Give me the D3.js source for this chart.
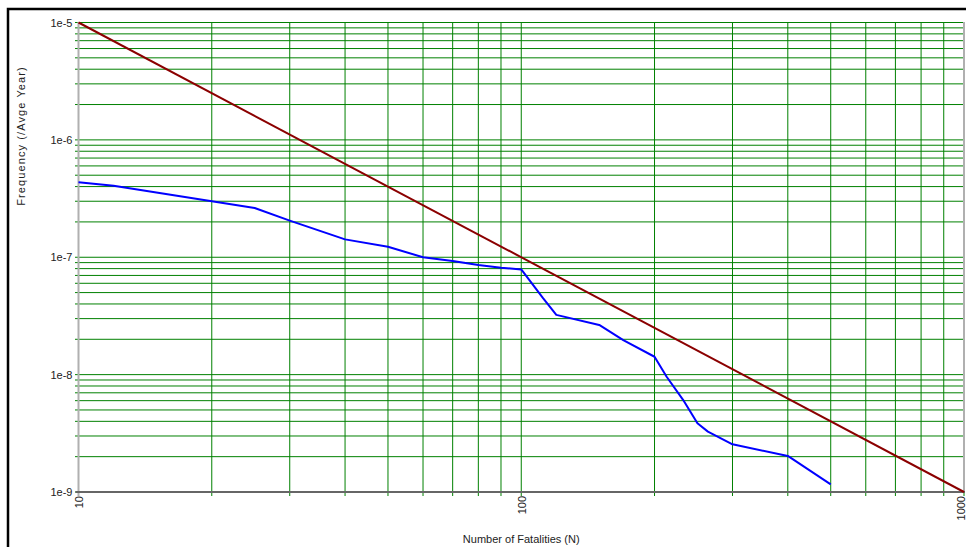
<!DOCTYPE html>
<html>
<head>
<meta charset="utf-8">
<script src="https://cdn.jsdelivr.net/npm/d3@7"></script>
<style>
  html, body { margin: 0; padding: 0; background: #fff; }
  svg { display: block; }
  text { font-family: "Liberation Sans", Arial, sans-serif; }
</style>
</head>
<body>
<svg id="chart" width="966" height="547"></svg>
<script>
// ---- data ----
const criterionN = [10, 1000];
const criterionF = [1e-5, 1e-9];

const fnN = [10, 12, 25, 30, 40, 50, 60, 70, 80, 90, 100, 112, 120, 150, 170, 200, 213, 232, 250, 264, 300, 400, 500];
const fnF = [4.35e-7, 4.07e-7, 2.63e-7, 2.05e-7, 1.42e-7, 1.23e-7, 1.0e-7, 9.3e-8, 8.6e-8, 8.15e-8, 7.87e-8,
             4.48e-8, 3.23e-8, 2.65e-8, 1.97e-8, 1.42e-8, 9.6e-9, 6.1e-9, 3.85e-9, 3.27e-9, 2.55e-9, 2.03e-9, 1.16e-9];

const xTickValues = [10, 100, 1000];
const yTickValues = [1e-9, 1e-8, 1e-7, 1e-6, 1e-5];
const xTitle = "Number of Fatalities (N)";
const yTitle = "Frequency (/Avge Year)";

// ---- drawing ----
(function () {
const svg = d3.select("#chart");
const W = 966, H = 547;
const pL = 78.5, pR = 964, pT = 22.5, pB = 492;

const x = d3.scaleLog().domain([10, 1000]).range([pL, pR]);
const y = d3.scaleLog().domain([1e-9, 1e-5]).range([pB, pT]);

svg.append("rect").attr("x", 0).attr("y", 0).attr("width", W).attr("height", H).attr("fill", "#fff");

// outer frame
svg.append("rect").attr("x", 8).attr("y", 9).attr("width", 1200).attr("height", 1200)
  .attr("fill", "none").attr("stroke", "#000").attr("stroke-width", 2.5);

// grid
const grid = svg.append("g");
grid.selectAll("line.h").data(y.ticks()).join("line").attr("class", "h")
  .attr("x1", pL - 3.5).attr("x2", pR)
  .attr("y1", d => y(d)).attr("y2", d => y(d))
  .attr("stroke", "#008000").attr("stroke-width", 1);
grid.selectAll("line.v").data(x.ticks()).join("line").attr("class", "v")
  .attr("x1", d => x(d)).attr("x2", d => x(d))
  .attr("y1", pT).attr("y2", pB + 4)
  .attr("stroke", "#008000").attr("stroke-width", 1);

// axis frame lines
svg.append("line").attr("x1", pL).attr("x2", pL).attr("y1", pT - 0.5).attr("y2", pB + 4)
  .attr("stroke", "#b0b0b0").attr("stroke-width", 2);
svg.append("line").attr("x1", pR).attr("x2", pR).attr("y1", pT - 0.5).attr("y2", pB)
  .attr("stroke", "#b0b0b0").attr("stroke-width", 2);
svg.append("line").attr("x1", pL - 3).attr("x2", pR + 1).attr("y1", pB).attr("y2", pB)
  .attr("stroke", "#666").attr("stroke-width", 2);

// axes labels via d3 axes
const yAxis = d3.axisLeft(y).tickValues(yTickValues)
  .tickFormat(d => "1e" + Math.round(Math.log10(d))).tickSize(0).tickPadding(6);
const gy = svg.append("g").attr("transform", `translate(${pL},0)`).call(yAxis);
gy.select(".domain").remove();
gy.selectAll("text").attr("font-size", 11).attr("fill", "#222")
  .attr("font-family", '"Liberation Sans", Arial, sans-serif');

const xAxis = d3.axisBottom(x).tickValues(xTickValues).tickFormat(d3.format("d")).tickSize(0);
const gx = svg.append("g").attr("transform", `translate(0,${pB})`).call(xAxis);
gx.select(".domain").remove();
gx.selectAll("text")
  .attr("font-size", 11).attr("fill", "#222")
  .attr("font-family", '"Liberation Sans", Arial, sans-serif')
  .attr("transform", "rotate(-90)")
  .attr("text-anchor", "end")
  .attr("x", -4).attr("y", (d, i, n) => i === n.length - 1 ? -3 : 0).attr("dy", "0.35em");

// titles
svg.append("text").attr("x", (pL + pR) / 2).attr("y", 543)
  .attr("text-anchor", "middle").attr("font-size", 11).attr("fill", "#222").text(xTitle);
svg.append("text").attr("transform", "translate(25,136) rotate(-90)")
  .attr("text-anchor", "middle").attr("font-size", 11).attr("letter-spacing", 1.1)
  .attr("fill", "#222").text(yTitle);

// lines
const lineGen = d3.line().x(d => x(d[0])).y(d => y(d[1]));
svg.append("path").datum(criterionN.map((n, i) => [n, criterionF[i]]))
  .attr("d", lineGen).attr("fill", "none").attr("stroke", "#8b0000").attr("stroke-width", 2);
svg.append("path").datum(fnN.map((n, i) => [n, fnF[i]]))
  .attr("d", lineGen).attr("fill", "none").attr("stroke", "#0000ff").attr("stroke-width", 2)
  .attr("stroke-linejoin", "round");
})();
</script>
</body>
</html>
